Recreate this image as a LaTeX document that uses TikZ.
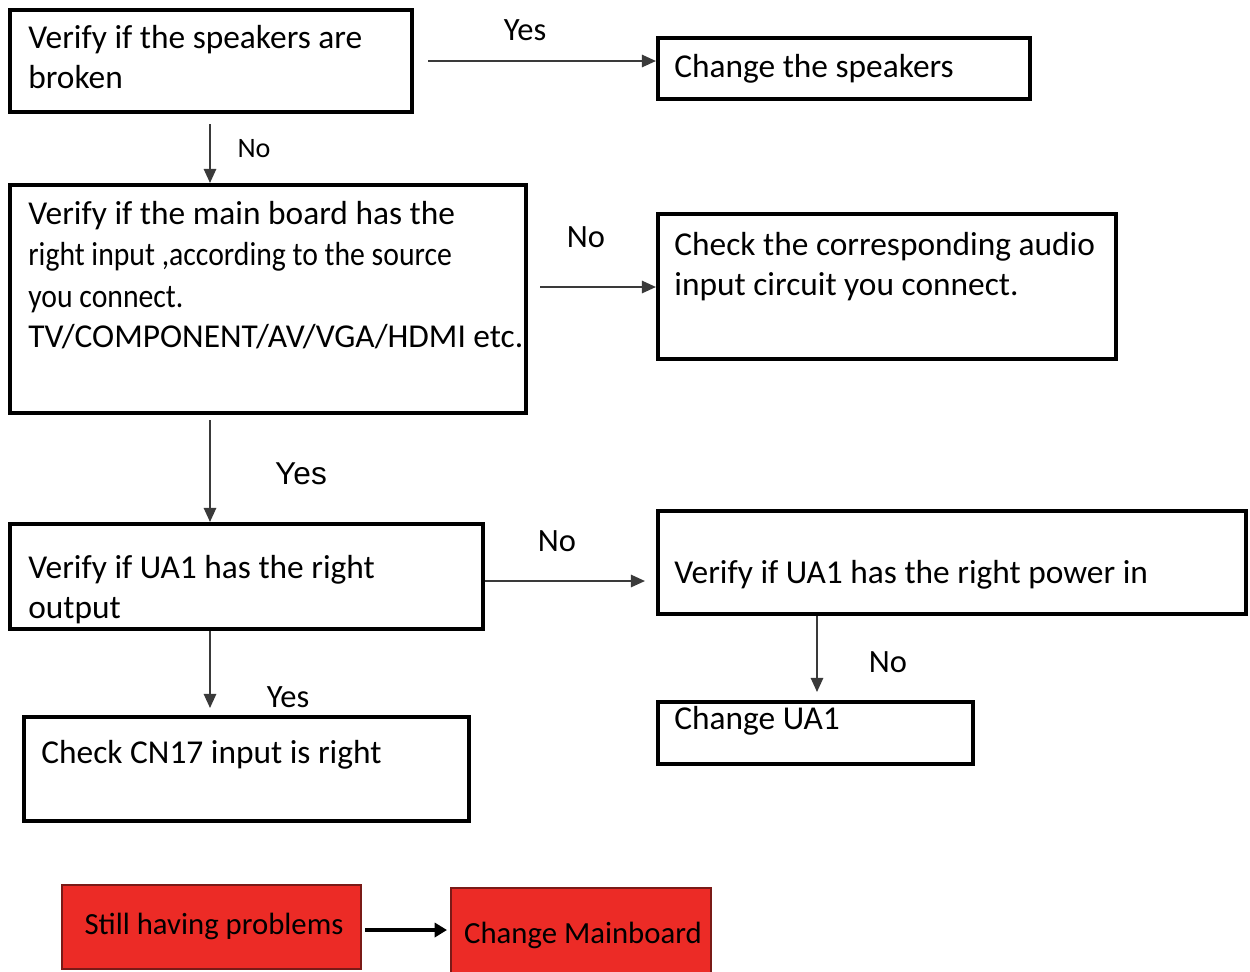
\documentclass[tikz,border=0pt]{standalone}
\usepackage{fontspec}
\setmainfont{Carlito}
\newfontfamily\narrowfont{Carlito}[FakeStretch=0.89]
\newfontfamily\arialfont{Liberation Sans}
\usepackage{xcolor}
\definecolor{tvred}{HTML}{EC2B26}
\definecolor{tvdarkred}{HTML}{7A1A17}
\definecolor{tvgray}{HTML}{3A3A3A}
\usetikzlibrary{arrows.meta,fit}
\tikzset{
  chkbox/.style={draw=black, line width=2.3pt, inner sep=0pt},
  redbox/.style={draw=tvdarkred, fill=tvred, line width=0.8pt, inner sep=0pt},
  redtext/.style={inner sep=0pt, font=\fontsize{17.5}{21}\selectfont},
  boxtext/.style={anchor=base west, inner sep=0pt, align=left,
    font=\fontsize{19}{22.6}\selectfont},
  ynlabel/.style={inner sep=0pt, font=\fontsize{18.5}{22}\selectfont},
  flowarr/.style={draw=tvgray, line width=1.1pt, -{Triangle[length=8pt,width=7pt]}},
  boldarr/.style={draw=black, line width=2.2pt, -{Triangle[length=7pt,width=8pt]}}
}

\begin{document}
\begin{tikzpicture}[x=0.02cm, y=-0.02cm]
  \useasboundingbox (0,0) rectangle (1250,971);

  % boxes
  \node[chkbox, fit={(10,10) (412,112)}]   (spk)  {};
  \node[chkbox, fit={(658,38) (1030,99)}]  (chg)  {};
  \node[chkbox, fit={(10,185) (526,413)}]  (mb)   {};
  \node[chkbox, fit={(658,214) (1116,359)}](aud)  {};
  \node[chkbox, fit={(10,524) (483,629)}]  (ua)   {};
  \node[chkbox, fit={(658,511) (1246,614)}](pwr)  {};
  \node[chkbox, fit={(658,702) (973,764)}] (cua)  {};
  \node[chkbox, fit={(24,717) (469,821)}]  (cn)   {};

  % box texts (base = last line)
  \node[boxtext] (spktxt) at (28,88)  {Verify if the speakers are\\broken};
  \node[boxtext] (chgtxt) at (674,77) {Change the speakers};
  \node[boxtext] (mbtxt)  at (28,347) {Verify if the main board has the\\[1pt]
    {\narrowfont right input ,according to the source}\\[1pt]
    {\narrowfont you connect.}\\
    TV/COMPONENT/AV/VGA/HDMI etc.};
  \node[boxtext] (audtxt) at (674,295) {Check the corresponding audio\\input circuit you connect.};
  \node[boxtext] (uatxt)  at (28,618)  {Verify if UA1 has the right\\output};
  \node[boxtext] (pwrtxt) at (674,583) {Verify if UA1 has the right power in};
  \node[boxtext] (cuatxt) at (674,729) {Change UA1};
  \node[boxtext] (cntxt)  at (41,763)  {Check CN17 input is right};

  % red boxes
  \node[redbox, fit={(62,885) (361,969)}] (still) {};
  \node[redbox, fit={(451,888) (711,980)}] (newmb) {};
  \node[redtext] (stilltxt) at (214,926) {Still having problems};
  \node[redtext] (newmbtxt) at (583,935) {Change Mainboard};

  % connectors
  \coordinate (a1) at (428,61);
  \draw[flowarr] (a1) -- (a1 -| chg.west);
  \coordinate (a2) at (210,124);
  \draw[flowarr] (a2) -- (a2 |- mb.north);
  \coordinate (a3) at (540,287);
  \draw[flowarr] (a3) -- (a3 -| aud.west);
  \coordinate (a4) at (210,420);
  \draw[flowarr] (a4) -- (a4 |- ua.north);
  \coordinate (a5) at (645,581);
  \draw[flowarr] (ua.east |- a5) -- (a5);
  \coordinate (a6) at (817,692);
  \draw[flowarr] (a6 |- pwr.south) -- (a6);
  \coordinate (a7) at (210,708);
  \draw[flowarr] (a7 |- ua.south) -- (a7);
  \coordinate (b1) at (365,930);
  \coordinate (b2) at (447,930);
  \draw[boldarr] (b1) -- (b2);

  % labels
  \node[ynlabel] (l1) at (525,30)  {Yes};
  \node[ynlabel, font=\fontsize{16}{19}\selectfont] (l2) at (254,149) {No};
  \node[ynlabel] (l3) at (586,237) {No};
  \node[ynlabel, font=\arialfont\fontsize{18}{21}\selectfont] (l4) at (301,474) {Yes};
  \node[ynlabel] (l5) at (557,541) {No};
  \node[ynlabel] (l6) at (888,662) {No};
  \node[ynlabel] (l7) at (288,697) {Yes};
\end{tikzpicture}
\end{document}
